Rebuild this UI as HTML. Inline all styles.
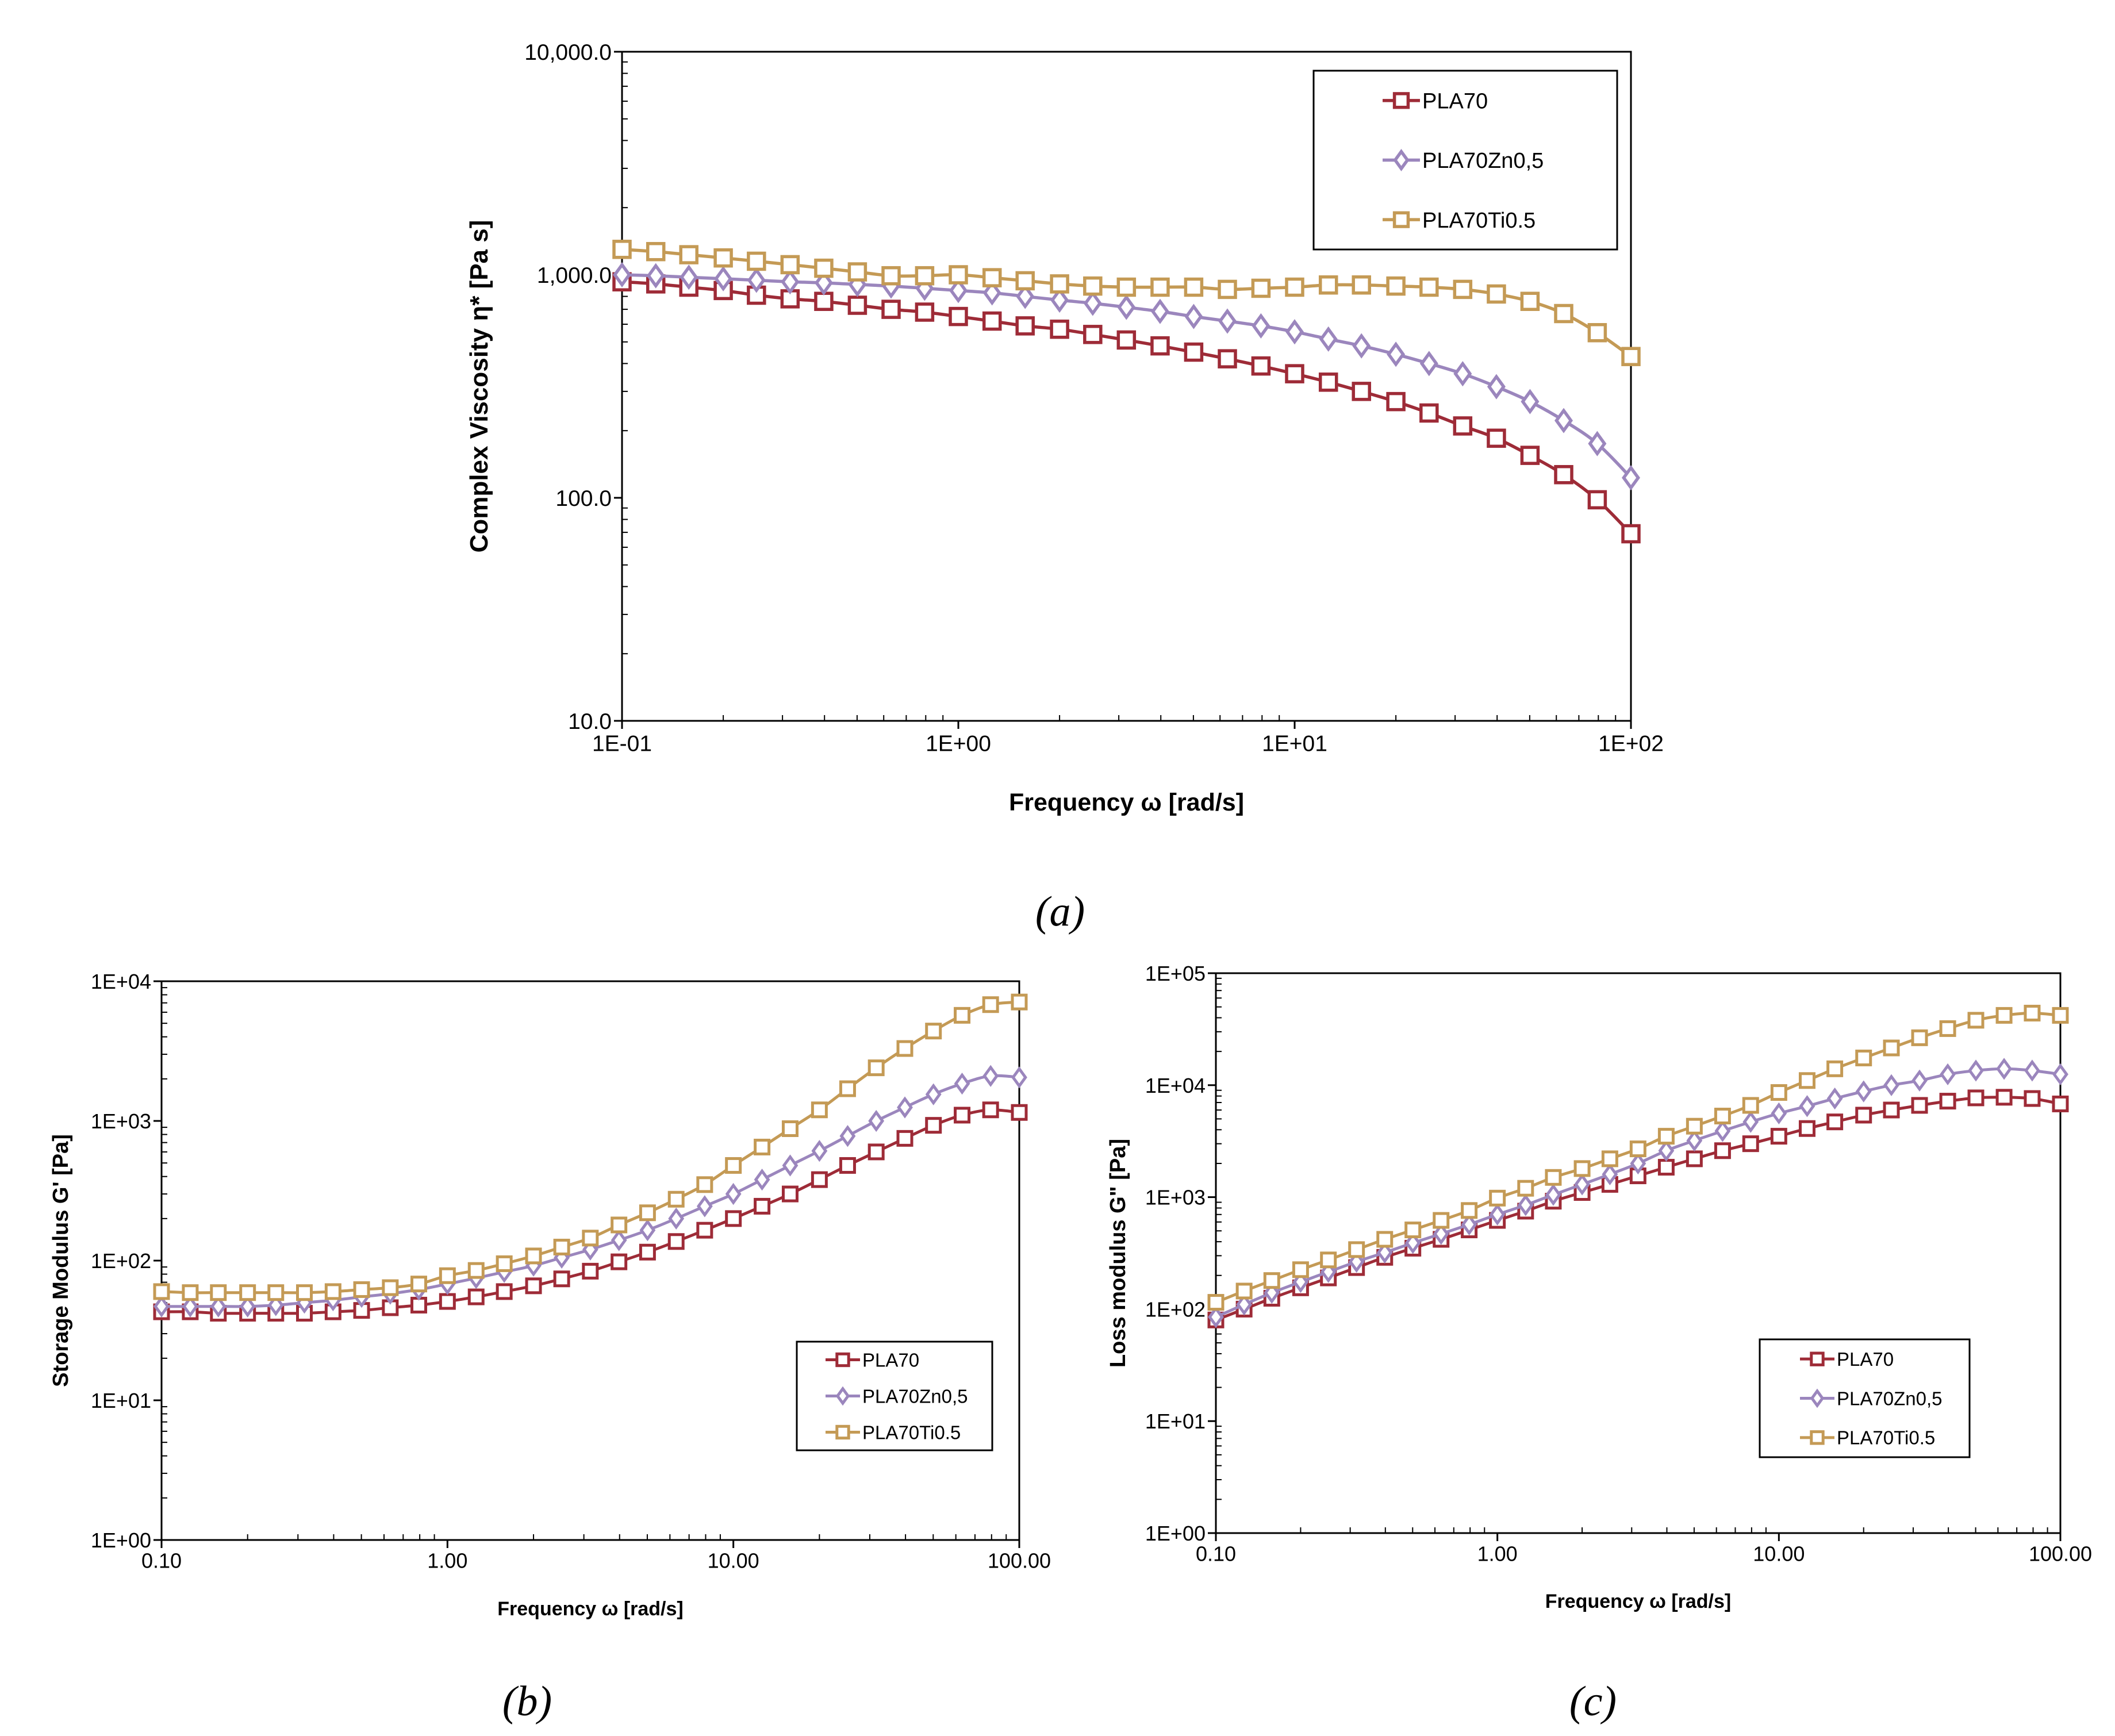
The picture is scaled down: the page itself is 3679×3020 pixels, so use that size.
<!DOCTYPE html>
<html><head><meta charset="utf-8">
<style>
html,body{margin:0;padding:0;background:#fff;}
svg{display:block;font-family:"Liberation Sans",sans-serif;}
</style></head>
<body>
<svg id="fig" width="3679" height="3020" viewBox="0 0 3679 3020" xmlns="http://www.w3.org/2000/svg"></svg>
<script>
const freqs = [0.1,0.126,0.158,0.2,0.251,0.316,0.398,0.501,0.631,0.794,1,1.26,1.58,2,2.51,3.16,3.98,5.01,6.31,7.94,10,12.6,15.8,20,25.1,31.6,39.8,50.1,63.1,79.4,100];
const seriesNames = ["PLA70","PLA70Zn0,5","PLA70Ti0.5"];
const viscPLA70 = [930,910,880,850,810,780,760,730,700,680,650,620,590,570,540,510,480,450,420,390,360,330,300,270,240,210,185,155,127,98,69];
const viscZn = [1000,990,975,960,945,930,920,905,890,870,850,830,800,770,745,715,685,650,620,590,555,515,480,440,400,360,315,270,222,175,123];
const viscTi = [1300,1270,1230,1190,1150,1110,1070,1030,990,990,1000,970,940,910,890,880,880,880,860,870,880,900,900,890,880,860,820,760,670,550,430];
const gpPLA70 = [43,43,42,42,42,42,43,44,46,48,51,55,60,66,74,84,98,115,137,165,200,245,300,380,480,600,750,930,1100,1200,1150];
const gpZn = [47,47,47,47,48,50,52,55,58,62,68,75,83,92,105,120,140,165,200,245,300,380,480,610,780,1000,1250,1550,1850,2100,2050];
const gpTi = [60,59,59,59,59,59,60,62,64,68,78,85,95,108,125,145,180,220,275,350,480,650,880,1200,1700,2400,3300,4400,5700,6800,7100];
const gppPLA70 = [80,100,125,155,190,235,290,350,420,510,620,750,920,1100,1300,1550,1850,2200,2600,3000,3500,4100,4700,5400,6000,6600,7200,7700,7800,7600,6800];
const gppZn = [85,110,140,175,215,265,320,390,470,570,700,850,1050,1300,1600,2000,2600,3200,3900,4700,5600,6500,7600,8800,10000,11000,12500,13500,14000,13500,12500];
const gppTi = [115,145,180,225,275,340,420,510,620,760,980,1200,1500,1800,2200,2700,3500,4300,5300,6600,8600,11000,14000,17500,21500,26500,32000,38000,42000,44000,42000];
const xTicksA = ["1E-01","1E+00","1E+01","1E+02"];
const yTicksA = ["10.0","100.0","1,000.0","10,000.0"];
const xTicksBC = ["0.10","1.00","10.00","100.00"];
const yTicksB = ["1E+00","1E+01","1E+02","1E+03","1E+04"];
const yTicksC = ["1E+00","1E+01","1E+02","1E+03","1E+04","1E+05"];
const colors = ["#9e2b37","#9b86bd","#c49a55"];
const markers = ["square","diamond","square"];

const NS="http://www.w3.org/2000/svg";
const svg=document.getElementById('fig');
function mk(tag,attrs,parent){const e=document.createElementNS(NS,tag);for(const k in attrs)e.setAttribute(k,attrs[k]);(parent||svg).appendChild(e);return e;}
function txt(s,attrs,parent){const e=mk('text',attrs,parent);e.textContent=s;return e;}

function marker(g,type,x,y,s,c,sw){
  let m;
  if(type==="square"){m=mk('rect',{x:x-s/2,y:y-s/2,width:s,height:s,fill:'#fff',stroke:c,'stroke-width':sw},g);}
  else{m=mk('polygon',{points:`${x},${y-s*0.62} ${x+s*0.45},${y} ${x},${y+s*0.62} ${x-s*0.45},${y}`,fill:'#fff',stroke:c,'stroke-width':sw},g);}
  return m;
}
function smooth(p){
  let d=`M${p[0][0].toFixed(1)},${p[0][1].toFixed(1)}`;
  for(let i=0;i<p.length-1;i++){
    const p0=p[i-1]||p[i],p1=p[i],p2=p[i+1],p3=p[i+2]||p2;
    const c1=[p1[0]+(p2[0]-p0[0])/6,p1[1]+(p2[1]-p0[1])/6];
    const c2=[p2[0]-(p3[0]-p1[0])/6,p2[1]-(p3[1]-p1[1])/6];
    d+=` C${c1[0].toFixed(1)},${c1[1].toFixed(1)} ${c2[0].toFixed(1)},${c2[1].toFixed(1)} ${p2[0].toFixed(1)},${p2[1].toFixed(1)}`;
  }
  return d;
}

function chart(o){
  const g=mk('g',{});
  
  
  const xs=v=>o.x0+(Math.log10(v)-o.xmin)/(o.xmax-o.xmin)*(o.x1-o.x0);
  const ys=v=>o.y1-(Math.log10(v)-o.ymin)/(o.ymax-o.ymin)*(o.y1-o.y0);
  const frame=mk('rect',{x:o.x0,y:o.y0,width:o.x1-o.x0,height:o.y1-o.y0,fill:'none',stroke:'#000','stroke-width':3},g);
  
  
  for(let d=o.ymin;d<=o.ymax;d++){
    const y=ys(Math.pow(10,d));
    mk('line',{x1:o.x0-14,y1:y,x2:o.x0,y2:y,stroke:'#000','stroke-width':3},g);
    const t=txt(o.yLabels[d-o.ymin],{x:o.x0-18,y:y+o.tf*0.36,'font-size':o.tf,'text-anchor':'end'},g);
    
    
    if(d<o.ymax)for(let k=2;k<10;k++){const yy=ys(k*Math.pow(10,d));mk('line',{x1:o.x0,y1:yy,x2:o.x0+10,y2:yy,stroke:'#000','stroke-width':2},g);}
  }
  for(let d=o.xmin;d<=o.xmax;d++){
    const x=xs(Math.pow(10,d));
    mk('line',{x1:x,y1:o.y1,x2:x,y2:o.y1+14,stroke:'#000','stroke-width':3},g);
    const t=txt(o.xLabels[d-o.xmin],{x:x,y:o.y1+o.tf*1.35,'font-size':o.tf,'text-anchor':'middle'},g);
    
    
    if(d<o.xmax)for(let k=2;k<10;k++){const xx=xs(k*Math.pow(10,d));mk('line',{x1:xx,y1:o.y1,x2:xx,y2:o.y1-10,stroke:'#000','stroke-width':2},g);}
  }
  const xt=txt(o.xTitle,{x:(o.x0+o.x1)/2,y:o.xTitleY,'font-size':o.xf,'font-weight':'bold','text-anchor':'middle'},g);
  
  
  const yt=txt(o.yTitle,{x:0,y:0,'font-size':o.af,'font-weight':'bold','text-anchor':'middle',transform:`translate(${o.yTitleX},${(o.y0+o.y1)/2}) rotate(-90)`},g);
  
  
  o.series.forEach((vals,i)=>{
    const sg=mk('g',{},g);
    
    
    const pts=freqs.map((f,j)=>[xs(f),ys(vals[j])]);
    mk('path',{d:smooth(pts),fill:'none',stroke:colors[i],'stroke-width':o.lw,'stroke-linejoin':'round'},sg);
    freqs.forEach((f,j)=>{
      const m=marker(sg,markers[i],xs(f),ys(vals[j]),o.ms,colors[i],o.lw);
      
      
    });
  });
  const L=o.legend;
  const lg=mk('g',{},g);
  
  
  mk('rect',{x:L.x,y:L.y,width:L.w,height:L.h,fill:'#fff',stroke:'#000','stroke-width':3},lg);
  seriesNames.forEach((n,i)=>{
    const cy=L.y+L.h*(i+0.5)/3;
    const eg=mk('g',{},lg);
    
    
    mk('line',{x1:L.x+L.lx,y1:cy,x2:L.x+L.lx+L.ll,y2:cy,stroke:colors[i],'stroke-width':o.lw},eg);
    marker(eg,markers[i],L.x+L.lx+L.ll/2,cy,o.ms*0.85,colors[i],o.lw);
    txt(n,{x:L.x+L.lx+L.ll+4,y:cy+L.f*0.36,'font-size':L.f},eg);
  });
  const cap=txt(o.cap,{x:o.capX,y:o.capY,'font-size':74,'font-style':'italic','font-family':'"Liberation Serif",serif','text-anchor':'middle'});
  
  
}

chart({name:'chart-a-complex-viscosity',x0:1082,x1:2837,y0:90,y1:1254,xmin:-1,xmax:2,ymin:1,ymax:4,
  xLabels:xTicksA,yLabels:yTicksA,tf:39,af:44,xf:43,lw:5.5,ms:28,
  xTitle:'Frequency ω [rad/s]',xTitleY:1410,yTitle:'Complex Viscosity η* [Pa s]',yTitleX:848,
  series:[viscPLA70,viscZn,viscTi],
  legend:{x:2285,y:123,w:528,h:311,lx:120,ll:65,f:38},cap:'(a)',capX:1844,capY:1610});
chart({name:'chart-b-storage-modulus',x0:281,x1:1773,y0:1707,y1:2679,xmin:-1,xmax:2,ymin:0,ymax:4,
  xLabels:xTicksBC,yLabels:yTicksB,tf:36,af:38,xf:34,lw:5,ms:24,
  xTitle:'Frequency ω [rad/s]',xTitleY:2810,yTitle:"Storage Modulus G' [Pa]",yTitleX:118,
  series:[gpPLA70,gpZn,gpTi],
  legend:{x:1386,y:2334,w:340,h:189,lx:50,ll:60,f:33},cap:'(b)',capX:917,capY:2984});
chart({name:'chart-c-loss-modulus',x0:2115,x1:3584,y0:1693,y1:2667,xmin:-1,xmax:2,ymin:0,ymax:5,
  xLabels:xTicksBC,yLabels:yTicksC,tf:36,af:38,xf:34,lw:5,ms:24,
  xTitle:'Frequency ω [rad/s]',xTitleY:2797,yTitle:'Loss modulus G" [Pa]',yTitleX:1957,
  series:[gppPLA70,gppZn,gppTi],
  legend:{x:3061,y:2330,w:365,h:205,lx:70,ll:60,f:33},cap:'(c)',capX:2771,capY:2984});
</script>
</body></html>
